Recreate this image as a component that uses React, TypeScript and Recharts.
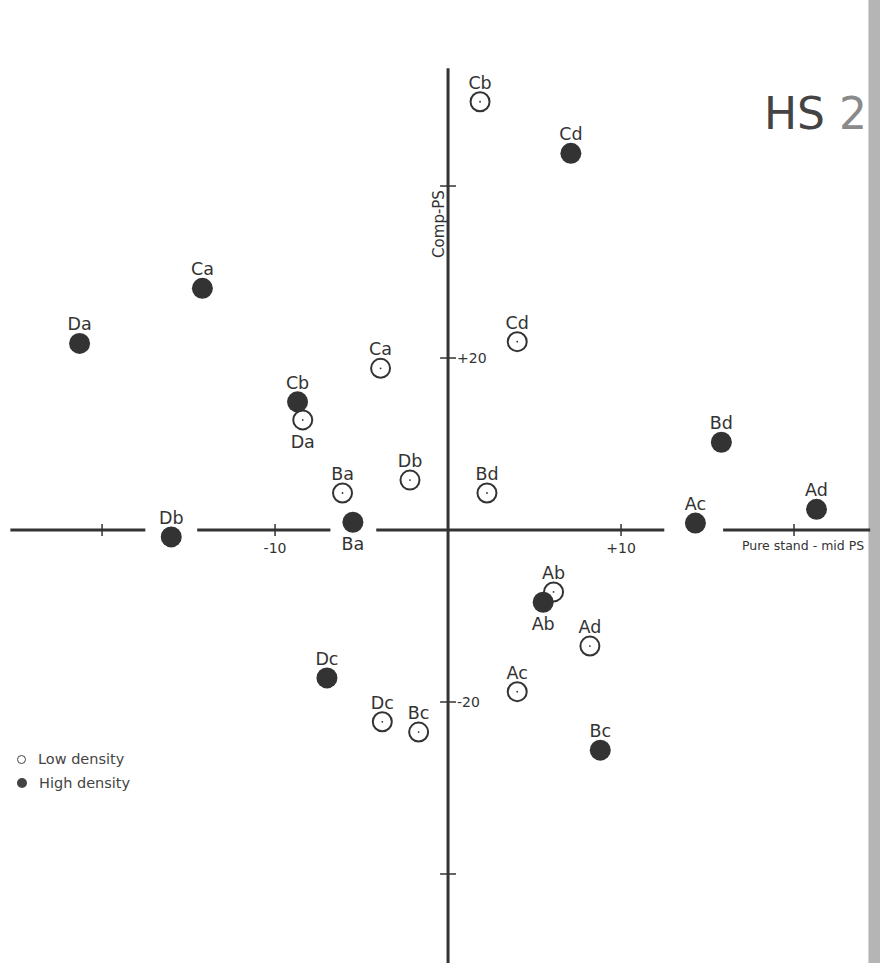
import {
    ReferenceArea,
    ReferenceLine,
    Scatter,
    ScatterChart,
    XAxis,
    YAxis,
} from 'recharts';

// low density (open circles)
const LOW_NAMES = ['Cb', 'Cd', 'Ca', 'Da', 'Ba', 'Db', 'Bd', 'Ab', 'Ad', 'Ac', 'Dc', 'Bc'];
const LOW_X = [1.85, 4.0, -3.9, -8.4, -6.1, -2.2, 2.25, 6.1, 8.2, 4.0, -3.8, -1.7];
const LOW_Y = [49.8, 21.9, 18.8, 12.8, 4.3, 5.8, 4.3, -7.2, -13.5, -18.8, -22.3, -23.5];

// high density (filled)
const HIGH_NAMES = ['Cd', 'Ca', 'Da', 'Cb', 'Db', 'Ba', 'Bd', 'Ac', 'Ad', 'Ab', 'Dc', 'Bc'];
const HIGH_X = [7.1, -14.2, -21.3, -8.7, -16.0, -5.5, 15.8, 14.3, 21.3, 5.5, -7.0, 8.8];
const HIGH_Y = [43.8, 28.1, 21.7, 14.9, -0.8, 0.9, 10.2, 0.8, 2.4, -8.4, -17.2, -25.6];

const LOW_LABEL_BELOW = ['Da'];
const HIGH_LABEL_BELOW = ['Ba', 'Ab'];

const X_TICKS = [-20, -10, 10, 20];
const X_TICK_LABELS = ['', '-10', '+10', ''];
const Y_TICKS = [40, 20, -20, -40];
const Y_TICK_LABELS = ['', '+20', '-20', ''];

// horizontal axis is broken where points sit on it
const X_AXIS_PIECES = [
    [-25.3, -17.5],
    [-14.5, -6.8],
    [-4.15, 12.5],
    [15.9, 24.4],
];

const X_DOMAIN = [-25.9, 24.97];
const Y_DOMAIN = [-50.35, 61.63];

const INK = '#333';
const FONT = '"DejaVu Sans", sans-serif';

const lowData = LOW_NAMES.map((name, i) => ({
    name,
    x: LOW_X[i],
    y: LOW_Y[i],
    below: LOW_LABEL_BELOW.includes(name),
}));
const highData = HIGH_NAMES.map((name, i) => ({
    name,
    x: HIGH_X[i],
    y: HIGH_Y[i],
    below: HIGH_LABEL_BELOW.includes(name),
}));
const xTickData = X_TICKS.map((x, i) => ({ x, y: 0, label: X_TICK_LABELS[i] }));
const yTickData = Y_TICKS.map((y, i) => ({ x: 0, y, label: Y_TICK_LABELS[i] }));

function PointLabel({ cx, cy, name, below }: any) {
    return (
        <text
            x={cx}
            y={below ? cy + 28 : cy - 13}
            textAnchor="middle"
            fontSize={17.5}
            fontFamily={FONT}
            fill={INK}
        >
            {name}
        </text>
    );
}

function OpenPoint(props: any) {
    const { cx, cy, payload } = props;
    return (
        <g>
            <circle cx={cx} cy={cy} r={9.5} fill="#fff" stroke={INK} strokeWidth={2} />
            <circle cx={cx} cy={cy} r={0.9} fill={INK} />
            <PointLabel cx={cx} cy={cy} name={payload.name} below={payload.below} />
        </g>
    );
}

function FilledPoint(props: any) {
    const { cx, cy, payload } = props;
    return (
        <g>
            <circle cx={cx} cy={cy} r={10.5} fill={INK} />
            <PointLabel cx={cx} cy={cy} name={payload.name} below={payload.below} />
        </g>
    );
}

function XTick(props: any) {
    const { cx, cy, payload } = props;
    return (
        <g>
            <line x1={cx} x2={cx} y1={cy - 6} y2={cy + 6} stroke={INK} strokeWidth={1.5} />
            {payload.label && (
                <text x={cx} y={cy + 23} textAnchor="middle" fontSize={14} fontFamily={FONT} fill={INK}>
                    {payload.label}
                </text>
            )}
        </g>
    );
}

function YTick(props: any) {
    const { cx, cy, payload } = props;
    return (
        <g>
            <line x1={cx - 8} x2={cx + 8} y1={cy} y2={cy} stroke={INK} strokeWidth={1.5} />
            {payload.label && (
                <text x={cx + 9} y={cy + 5} fontSize={14} fontFamily={FONT} fill={INK}>
                    {payload.label}
                </text>
            )}
        </g>
    );
}

export default function App() {
    return (
        <div style={{ position: 'absolute', left: 0, top: 0, width: 880, height: 963, background: '#fff', overflow: 'hidden' }}>
            <ScatterChart width={880} height={963} margin={{ top: 0, right: 0, bottom: 0, left: 0 }}>
                <XAxis type="number" dataKey="x" domain={X_DOMAIN} hide allowDataOverflow />
                <YAxis type="number" dataKey="y" domain={Y_DOMAIN} hide allowDataOverflow />

                <ReferenceArea x1={24.3} x2={24.97} y1={Y_DOMAIN[0]} y2={Y_DOMAIN[1]} fill="#a8a8a8" fillOpacity={0.85} stroke="none" />

                {X_AXIS_PIECES.map(([a, b], i) => (
                    <ReferenceLine
                        key={`xa-${i}`}
                        segment={[{ x: a, y: 0 }, { x: b, y: 0 }]}
                        stroke={INK}
                        strokeWidth={3}
                    />
                ))}
                <ReferenceLine
                    segment={[{ x: 0, y: 53.7 }, { x: 0, y: Y_DOMAIN[0] }]}
                    stroke={INK}
                    strokeWidth={3}
                />

                <Scatter data={xTickData} shape={XTick} isAnimationActive={false} />
                <Scatter data={yTickData} shape={YTick} isAnimationActive={false} />
                <Scatter data={lowData} shape={OpenPoint} isAnimationActive={false} />
                <Scatter data={highData} shape={FilledPoint} isAnimationActive={false} />
            </ScatterChart>

            <div
                style={{
                    position: 'absolute',
                    left: 439,
                    top: 224,
                    transform: 'translate(-50%, -50%) rotate(-90deg)',
                    fontFamily: FONT,
                    fontSize: 15,
                    color: INK,
                    whiteSpace: 'nowrap',
                }}
            >
                Comp-PS
            </div>
            <div
                style={{
                    position: 'absolute',
                    left: 742,
                    top: 538,
                    fontFamily: FONT,
                    fontSize: 12.5,
                    color: INK,
                    whiteSpace: 'nowrap',
                }}
            >
                Pure stand - mid PS
            </div>
            <div
                style={{
                    position: 'absolute',
                    left: 764,
                    top: 92,
                    fontFamily: FONT,
                    fontSize: 44,
                    color: '#444',
                    whiteSpace: 'nowrap',
                    lineHeight: 1,
                }}
            >
                HS <span style={{ color: '#8a8a8a' }}>2</span>
            </div>
            <div style={{ position: 'absolute', left: 17, top: 747, fontFamily: FONT, fontSize: 14.5, color: '#444', lineHeight: '24px' }}>
                <div style={{ display: 'flex', alignItems: 'center', gap: 12 }}>
                    <span style={{ width: 7, height: 7, borderRadius: '50%', border: '1.5px solid #444', display: 'inline-block' }} />
                    Low density
                </div>
                <div style={{ display: 'flex', alignItems: 'center', gap: 12 }}>
                    <span style={{ width: 10, height: 10, borderRadius: '50%', background: '#444', display: 'inline-block' }} />
                    High density
                </div>
            </div>
        </div>
    );
}
